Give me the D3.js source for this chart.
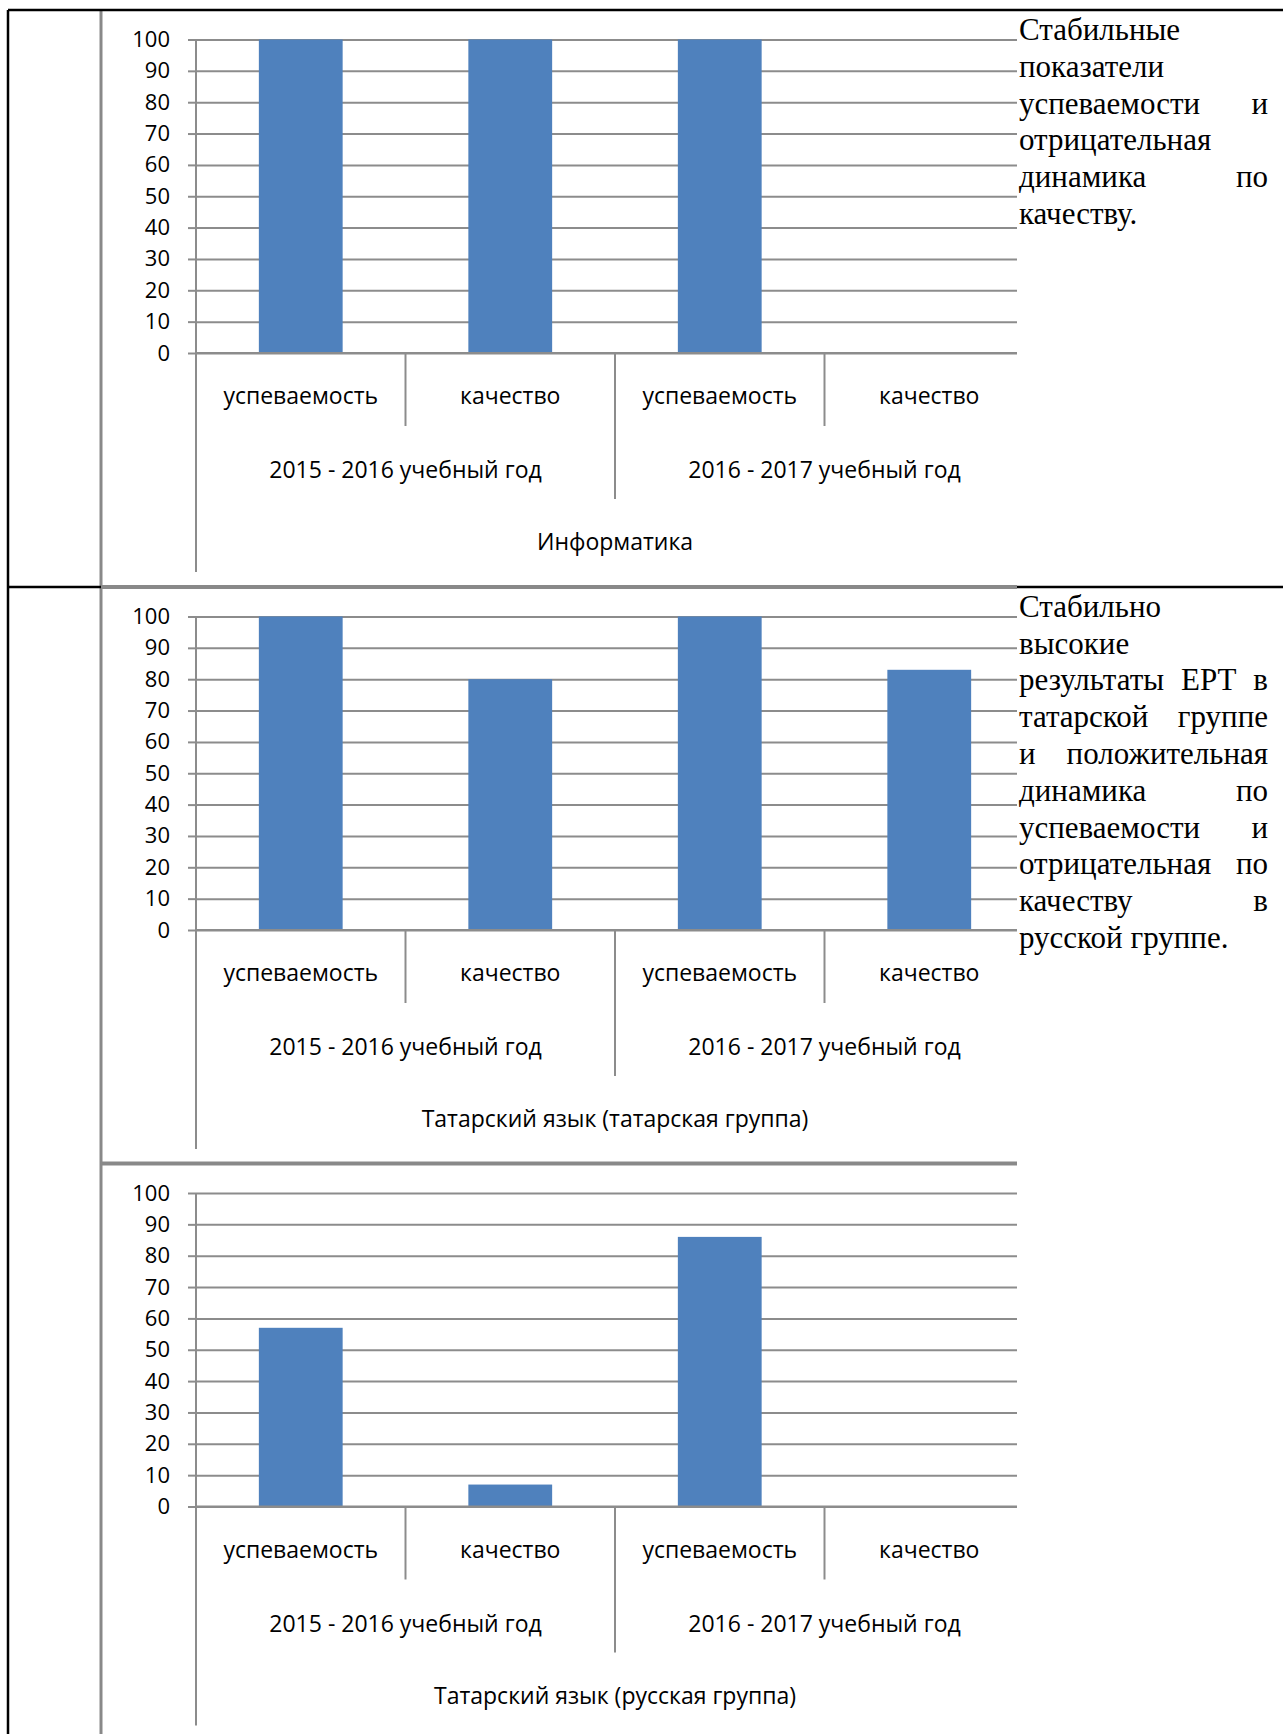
<!DOCTYPE html>
<html>
<head>
<meta charset="utf-8">
<script src="https://cdn.jsdelivr.net/npm/d3@7"></script>
<style>
body { margin: 0; background: #fff; }
</style>
</head>
<body>
<div id="main"></div>
<script>
var categories = ["успеваемость", "качество", "успеваемость", "качество"];
var years = ["2015 - 2016 учебный год", "2016 - 2017 учебный год"];
var subjects = ["Информатика", "Татарский язык (татарская группа)", "Татарский язык (русская группа)"];
var informatika = [100, 100, 100, 0];
var tatarTatGroup = [100, 80, 100, 83];
var tatarRusGroup = [57, 7, 86, 0];
var yTicks = [0, 10, 20, 30, 40, 50, 60, 70, 80, 90, 100];

var noteTop = ["Стабильные", "показатели", "успеваемости и", "отрицательная", "динамика по", "качеству."];
var noteBottom = ["Стабильно", "высокие", "результаты ЕРТ в", "татарской группе", "и положительная",
    "динамика по", "успеваемости и", "отрицательная по", "качеству в", "русской группе."];

var outerWidth = 1283;
var outerHeight = 1734;

var plotLeft = 196;
var plotRight = 1034;
var cellRight = 1017;
var chartTops = [10, 587, 1163.5];

var gridColor = "#8c8c8c";
var barColor = "#4f81bd";
var sansFont = "'Open Sans', sans-serif";

var svg = d3.select("#main")
    .append("svg")
    .attr("width", outerWidth)
    .attr("height", outerHeight);

svg.append("rect").attr("width", outerWidth).attr("height", outerHeight).attr("fill", "#fff");

svg.append("defs").append("clipPath")
    .attr("id", "chartClip")
    .append("rect")
    .attr("x", 101).attr("y", 0)
    .attr("width", cellRight - 101).attr("height", outerHeight);

var xScale = d3.scaleBand()
    .domain(d3.range(categories.length))
    .range([plotLeft, plotRight])
    .paddingInner(0.6)
    .paddingOuter(0.3);

function drawChart(top, values, subject) {
    var g = svg.append("g").attr("clip-path", "url(#chartClip)");
    var yScale = d3.scaleLinear().domain([0, 100]).range([top + 343, top + 29.5]);
    var base = yScale(0);

    // gridlines
    var grid = g.append("g")
        .attr("transform", "translate(" + plotLeft + ",0)")
        .call(d3.axisLeft(yScale).tickValues(yTicks).tickSize(-(plotRight - plotLeft)).tickFormat(""));
    grid.select(".domain").remove();
    grid.selectAll("line").attr("stroke", gridColor).attr("stroke-width", 2);

    // bars
    g.selectAll("rect.bar").data(values)
        .enter()
        .append("rect")
        .attr("class", "bar")
        .attr("x", (d, i) => xScale(i))
        .attr("width", xScale.bandwidth())
        .attr("y", d => yScale(d))
        .attr("height", d => base - yScale(d))
        .attr("fill", barColor);

    // y axis: stubs and labels
    var yAxisG = g.append("g")
        .attr("transform", "translate(" + plotLeft + ",0)")
        .call(d3.axisLeft(yScale).tickValues(yTicks).tickSize(8).tickPadding(18));
    yAxisG.select(".domain").remove();
    yAxisG.selectAll("line").attr("stroke", gridColor).attr("stroke-width", 2);
    yAxisG.selectAll("text")
        .attr("font-family", sansFont)
        .attr("font-size", 22)
        .attr("fill", "#000");

    // category axis line
    g.append("line")
        .attr("x1", plotLeft).attr("x2", plotRight)
        .attr("y1", base).attr("y2", base)
        .attr("stroke", gridColor).attr("stroke-width", 2);

    // boundaries between categories, groups and the whole axis
    var step = xScale.step();
    var depth = [top + 562, top + 416, top + 489, top + 416, top + 562];
    g.selectAll("line.cat").data(depth)
        .enter()
        .append("line")
        .attr("class", "cat")
        .attr("x1", (d, i) => plotLeft + i * step)
        .attr("x2", (d, i) => plotLeft + i * step)
        .attr("y1", (d, i) => (i === 0 ? top + 29.5 : base))
        .attr("y2", d => d)
        .attr("stroke", gridColor).attr("stroke-width", 2);

    var center = i => xScale(i) + xScale.bandwidth() / 2;

    g.selectAll("text.cat").data(categories)
        .enter()
        .append("text")
        .attr("class", "cat")
        .attr("x", (d, i) => center(i))
        .attr("y", top + 394)
        .attr("text-anchor", "middle")
        .attr("font-family", sansFont)
        .attr("font-size", 23)
        .text(d => d);

    g.selectAll("text.year").data(years)
        .enter()
        .append("text")
        .attr("class", "year")
        .attr("x", (d, i) => (center(i * 2) + center(i * 2 + 1)) / 2)
        .attr("y", top + 468)
        .attr("text-anchor", "middle")
        .attr("font-family", sansFont)
        .attr("font-size", 23)
        .text(d => d);

    g.append("text")
        .attr("x", (plotLeft + plotRight) / 2)
        .attr("y", top + 540)
        .attr("text-anchor", "middle")
        .attr("font-family", sansFont)
        .attr("font-size", 23)
        .text(subject);
}

drawChart(chartTops[0], informatika, subjects[0]);
drawChart(chartTops[1], tatarTatGroup, subjects[1]);
drawChart(chartTops[2], tatarRusGroup, subjects[2]);

// table and chart frames
svg.append("line").attr("x1", 101).attr("x2", 101).attr("y1", 10).attr("y2", outerHeight)
    .attr("stroke", "#898989").attr("stroke-width", 3);
[chartTops[1], chartTops[2]].forEach(y => {
    svg.append("line").attr("x1", 101).attr("x2", cellRight).attr("y1", y).attr("y2", y)
        .attr("stroke", "#898989").attr("stroke-width", 4);
});
svg.append("line").attr("x1", 8).attr("x2", outerWidth).attr("y1", 10).attr("y2", 10)
    .attr("stroke", "#000").attr("stroke-width", 2.5);
svg.append("line").attr("x1", 8).attr("x2", 8).attr("y1", 10).attr("y2", outerHeight)
    .attr("stroke", "#000").attr("stroke-width", 2.5);
svg.append("line").attr("x1", 8).attr("x2", 101).attr("y1", 587).attr("y2", 587)
    .attr("stroke", "#000").attr("stroke-width", 2.5);
svg.append("line").attr("x1", cellRight).attr("x2", outerWidth).attr("y1", 587).attr("y2", 587)
    .attr("stroke", "#000").attr("stroke-width", 2.5);

// justified notes in the right column
var noteLeft = 1019;
var noteWidth = 249;
var lineStep = 36.8;

function drawNote(lines, firstBaseline) {
    var g = svg.append("g")
        .attr("font-family", "'Liberation Serif', 'Times New Roman', serif")
        .attr("font-size", 31)
        .attr("fill", "#000");
    lines.forEach((line, i) => {
        var y = firstBaseline + i * lineStep;
        var words = line.split(" ");
        if (i === lines.length - 1 || words.length === 1) {
            g.append("text").attr("x", noteLeft).attr("y", y).text(line);
            return;
        }
        var nodes = words.map(w => g.append("text").attr("y", y).text(w));
        var total = d3.sum(nodes, n => n.node().getComputedTextLength());
        var gap = (noteWidth - total) / (words.length - 1);
        var x = noteLeft;
        nodes.forEach(n => {
            n.attr("x", x);
            x += n.node().getComputedTextLength() + gap;
        });
    });
}

drawNote(noteTop, 40);
drawNote(noteBottom, 616.7);
</script>
</body>
</html>
